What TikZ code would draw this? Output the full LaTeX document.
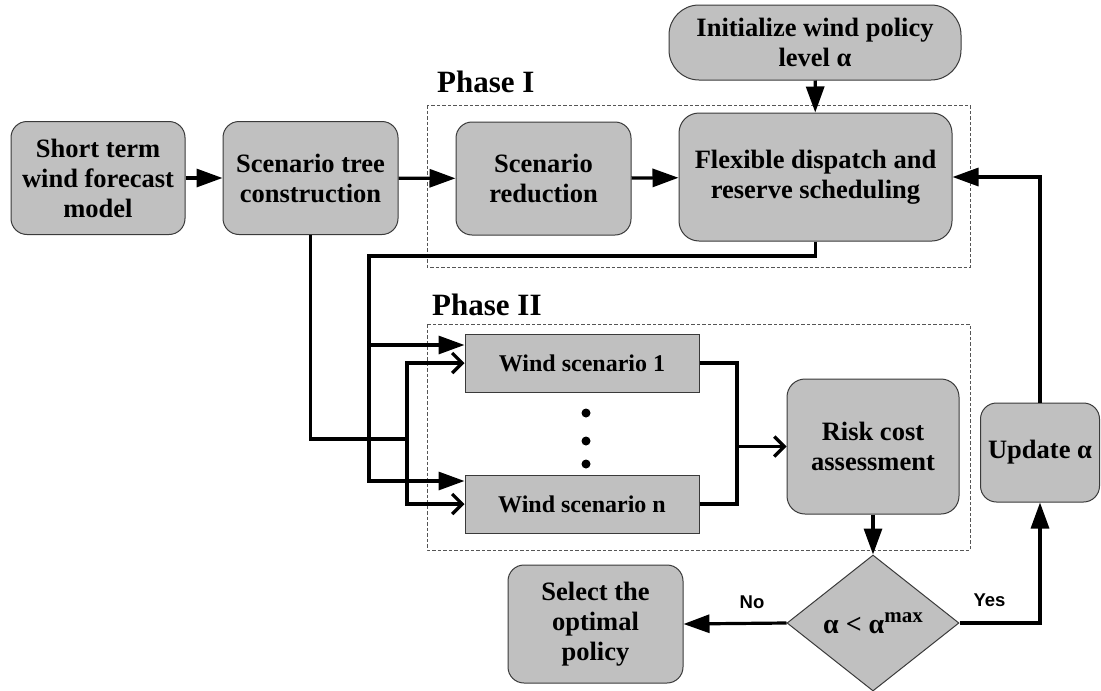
\documentclass[tikz,border=0pt]{standalone}
\usepackage{fontspec}
\setmainfont{Liberation Serif}
\newfontfamily\labelsans{Liberation Sans}
\usetikzlibrary{arrows.meta,shapes.geometric}
\definecolor{boxfill}{HTML}{C0C0C0}
\definecolor{boxline}{HTML}{3A3A3A}
\definecolor{phaseline}{HTML}{555555}
\begin{document}
\begin{tikzpicture}[x=1pt,y=-1pt,
  proc/.style={draw=boxline, line width=1pt, fill=boxfill, rounded corners=16pt,
    align=center, inner sep=0pt, font=\bfseries\fontsize{26.5}{30}\selectfont},
  wsbox/.style={draw=boxline, line width=1pt, fill=boxfill, align=center, inner sep=0pt,
    minimum width=234pt, minimum height=58pt, font=\bfseries\fontsize{24}{28}\selectfont},
  decision/.style={diamond, draw=boxline, line width=1pt, fill=boxfill, inner sep=0pt,
    minimum width=172pt, minimum height=136pt, font=\bfseries\fontsize{28}{30}\selectfont},
  phasebox/.style={draw=phaseline, line width=0.9pt, dash pattern=on 3.5pt off 2pt},
  phaselabel/.style={anchor=base west, inner sep=0pt, font=\bfseries\fontsize{31}{34}\selectfont},
  answer/.style={inner sep=0pt, font=\labelsans\bfseries\fontsize{18.5}{20}\selectfont},
  link/.style={line width=3.2pt, line join=miter},
  flow/.style={link, -{Triangle[length=26pt,width=18pt]}},
  openflow/.style={link, -{Straight Barb[length=10pt,width=20pt]}},
  dot/.style={circle, fill=black, inner sep=0pt, minimum size=9pt}
]
\useasboundingbox (0,0) rectangle (1101,691);

% phase frames and their titles
\draw[phasebox] (427,105) rectangle (970,267);
\draw[phasebox] (427,324) rectangle (970,550);
\node[phaselabel] (ph1) at (437,92) {Phase I};
\node[phaselabel] (ph2) at (432,315) {Phase II};

% process boxes
\node[proc, minimum width=174pt, minimum height=113pt] (short) at (98,178)
  {Short term\\wind forecast\\model};
\node[proc, minimum width=175pt, minimum height=113pt] (tree) at (310.5,178)
  {Scenario tree\\construction};
\node[proc, minimum width=175pt, minimum height=113pt] (red) at (543.5,178.5)
  {Scenario\\reduction};
\node[proc, minimum width=273pt, minimum height=128pt, rounded corners=20pt] (flex) at (815.5,177)
  {Flexible dispatch and\\reserve scheduling};
\node[proc, minimum width=292pt, minimum height=75pt, rounded corners=30pt] (init) at (815,42.5)
  {Initialize wind policy\\level α};
\node[wsbox] (ws1) at (582,363) {Wind scenario 1};
\node[wsbox] (wsn) at (582,504) {Wind scenario n};
\node[proc, minimum width=172pt, minimum height=135pt, rounded corners=18pt] (risk) at (873,446.5)
  {Risk cost\\assessment};
\node[proc, minimum width=175pt, minimum height=118pt] (select) at (595.5,624)
  {Select the\\optimal\\policy};
\node[proc, minimum width=119pt, minimum height=99pt] (update) at (1040,452.5)
  {Update α};
\node[decision] (dec) at (873,623)
  {α < α\raisebox{11pt}{\fontsize{21}{22}\selectfont max}};

% ellipsis between the scenarios
\node[dot] (d1) at (586,413) {};
\node[dot] (d2) at (586,441) {};
\node[dot] (d3) at (586,464) {};

% main chain
\draw[flow] (short) -- (tree);
\draw[flow] (tree) -- (red);
\draw[flow] (red) -- (flex);
\draw[flow] (init) -- (flex);

% dispatch result fed to every scenario
\coordinate (fbL) at (369,256);
\coordinate (fb1) at (369,345);
\coordinate (fb2) at (369,481);
\draw[flow] (flex.south) |- (fbL) -- (fb2) -- (wsn.west |- fb2);
\draw[flow] (fb1) -- (ws1.west |- fb1);

% scenario tree fed to every scenario
\coordinate (tr) at (407,439);
\draw[link] (tree.south) |- (tr);
\draw[openflow] (tr) |- (ws1.west);
\draw[openflow] (tr) |- (wsn.west);

% scenarios collected into the risk assessment
\coordinate (col) at (737,446.5);
\draw[link] (ws1.east) -| (col);
\draw[link] (wsn.east) -| (col);
\draw[openflow] (col) -- (risk.west);

% decision loop
\draw[flow] (risk) -- (dec);
\draw[flow] (dec.west) -- (select.east);
\draw[flow] (dec.east) -| (update.south);
\draw[flow] (update.north) |- (flex.east);
\node[answer] (no) at (752,602) {No};
\node[answer] (yes) at (989.5,600) {Yes};
\end{tikzpicture}
\end{document}
